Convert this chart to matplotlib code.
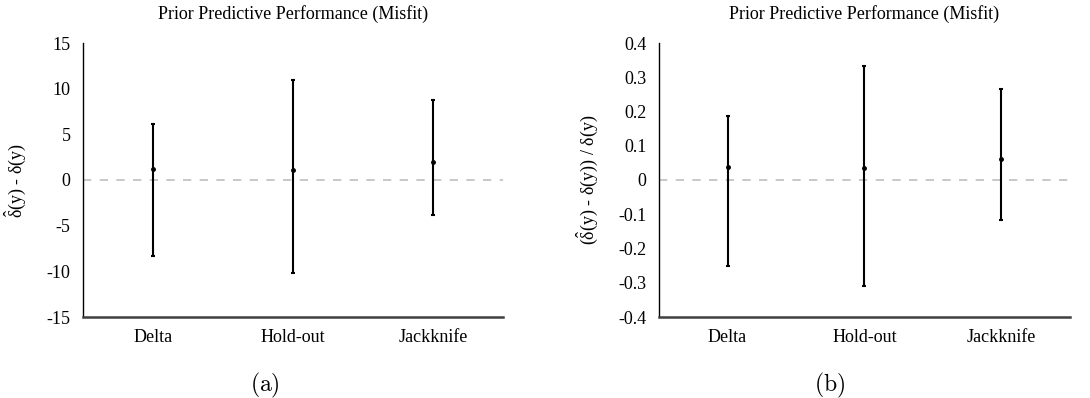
import matplotlib as mpl
import matplotlib.pyplot as plt
import numpy as np
mpl.use('Agg')

mpl.rc('font', family='Liberation Serif', size=13)
mpl.rc('mathtext', fontset='custom', rm='Liberation Serif',
       it='Liberation Serif:italic', bf='Liberation Serif:bold')

methods = ['Delta', 'Hold-out', 'Jackknife']

# panel (a): absolute misfit
abs_mean = [1.15, 1.05, 1.95]
abs_low = [-8.3, -10.2, -3.8]
abs_high = [6.1, 10.95, 8.8]

# panel (b): relative misfit
rel_mean = [0.037, 0.035, 0.060]
rel_low = [-0.250, -0.309, -0.116]
rel_high = [0.186, 0.333, 0.265]

fig = plt.figure(figsize=(10.9, 3.98), dpi=100)
ax1 = fig.add_axes([83/1090, 1-317/398, 420/1090, 274/398])
ax2 = fig.add_axes([659/1090, 1-317/398, 411/1090, 274/398])


def draw(ax, mean, low, high, lim, ticks, ticklabels, ylabel):
    x = np.arange(len(methods))
    mean = np.array(mean)
    err = [mean - np.array(low), np.array(high) - mean]
    ax.axhline(0, color='#bfbfbf', lw=1.2, ls=(0, (5, 5)), zorder=1)
    ax.errorbar(x, mean, yerr=err, fmt='o', color='black', ms=2.5,
                elinewidth=1.5, capsize=1.5, capthick=1.5, zorder=3)
    ax.set_xlim(-0.5, 2.5)
    ax.set_ylim(*lim)
    ax.set_xticks(x)
    ax.set_xticklabels(methods)
    ax.set_yticks(ticks)
    ax.set_yticklabels(ticklabels)
    ax.tick_params(axis='y', length=0, pad=9)
    ax.tick_params(axis='x', length=0, pad=9)
    for s in ['top', 'right']:
        ax.spines[s].set_visible(False)
    ax.spines['left'].set_linewidth(1.0)
    ax.spines['bottom'].set_linewidth(1.8)
    ax.spines['bottom'].set_color('#404040')
    ax.set_title('Prior Predictive Performance (Misfit)', fontsize=13, pad=17)
    ax.set_ylabel(ylabel, fontsize=13, labelpad=13)


draw(ax1, abs_mean, abs_low, abs_high, (-15, 15),
     [-15, -10, -5, 0, 5, 10, 15],
     ['-15', '-10', '-5', '0', '5', '10', '15'],
     r'$\hat{\mathrm{\delta}}\mathrm{(y)}$ - δ(y)')
draw(ax2, rel_mean, rel_low, rel_high, (-0.4, 0.4),
     np.arange(-4, 5) / 10,
     ['-0.4', '-0.3', '-0.2', '-0.1', '0', '0.1', '0.2', '0.3', '0.4'],
     r'($\hat{\mathrm{\delta}}\mathrm{(y)}$ - δ(y)) / δ(y)')

fig.text(265/1090, 1-385/398, r'$\mathrm{(a)}$', ha='center', va='center',
         fontsize=17, math_fontfamily='cm')
fig.text(830/1090, 1-385/398, r'$\mathrm{(b)}$', ha='center', va='center',
         fontsize=17, math_fontfamily='cm')

fig.savefig('out.png', dpi=100)
